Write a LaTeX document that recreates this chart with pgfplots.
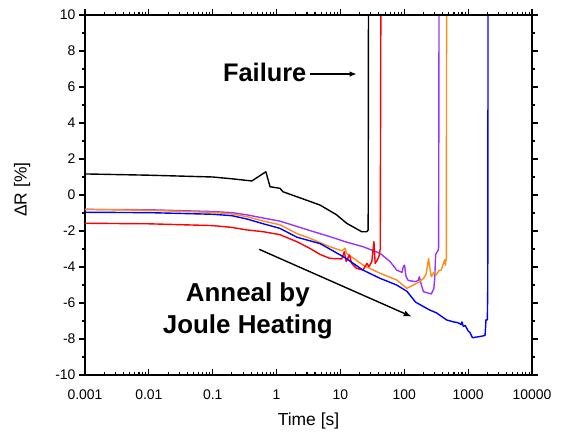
\documentclass[border=0pt]{standalone}
\usepackage{fontspec}
\setmainfont{Liberation Sans}
\usepackage{pgfplots}
\pgfplotsset{compat=1.18}
\usetikzlibrary{arrows.meta}

\definecolor{cpurple}{RGB}{153,51,255}
\definecolor{corange}{RGB}{255,140,20}
\definecolor{cred}{RGB}{255,0,0}
\definecolor{cblue}{RGB}{0,0,255}

\pgfplotsset{
  common/.style={
    width=447bp, height=360bp, scale only axis,
    xmin=1e-3, xmax=1e4,
    ymin=-10, ymax=10,
    axis line style={line width=1.2bp},
    every tick/.style={black, line width=1.1bp},
    major tick length=6bp, minor tick length=3.3bp,
    tick label style={font=\fontsize{14}{16}\selectfont},
    xtick={0.001,0.01,0.1,1,10,100,1000,10000},
    minor xtick={0.002,0.003,0.004,0.005,0.006,0.007,0.008,0.009,
      0.02,0.03,0.04,0.05,0.06,0.07,0.08,0.09,
      0.2,0.3,0.4,0.5,0.6,0.7,0.8,0.9,
      2,3,4,5,6,7,8,9,
      20,30,40,50,60,70,80,90,
      200,300,400,500,600,700,800,900,
      2000,3000,4000,5000,6000,7000,8000,9000},
  },
  curve/.style={line width=1.4bp, line join=round},
}

\begin{document}
\begin{tikzpicture}
  % main axis: data, y ticks (outward both sides), top x ticks (outward)
  \begin{semilogxaxis}[
    common, name=main,
    tick align=outside,
    xtick pos=top,
    xticklabels={,,,,,,,},
    xticklabel style={overlay},
    ytick={-10,-8,...,10},
    yticklabels={-10,-8,-6,-4,-2,0,2,4,6,8,10},
    minor ytick={-9,-7,-5,-3,-1,1,3,5,7,9},
    ytick pos=both, yticklabel pos=left,
    ylabel={ΔR [\%]},
    ylabel style={font=\fontsize{17.5}{20}\selectfont, at={(rel axis cs:0,0.515)}, anchor=center, yshift=63bp},
  ]
    % purple
    \addplot[curve, cpurple] coordinates {
      (0.001,-0.8) (0.01,-0.82) (0.1,-0.92) (0.2,-0.98) (0.34,-1.1) (0.62,-1.28)
      (1.12,-1.45) (2.1,-1.75) (3.5,-2.0) (6.8,-2.31) (12,-2.6) (22.5,-2.87)
      (41.7,-3.24) (60,-3.7) (76,-4.17) (92,-4.3) (97,-3.95) (101,-3.9)
      (106,-4.5) (115,-4.75) (150,-4.81) (165,-4.75) (172,-4.54) (185,-5.0)
      (200,-5.37) (265,-5.5) (290,-5.2) (300,-4.6) (310,-3.3) (340,-3.06)
      (345,-2.9) (350,10.5)
    };
    % orange
    \addplot[curve, corange] coordinates {
      (0.001,-0.8) (0.01,-0.85) (0.1,-0.97) (0.2,-1.05) (0.34,-1.2) (0.62,-1.45)
      (1.12,-1.65) (2.1,-2.15) (3.3,-2.4) (6.8,-2.87) (10.5,-3.1) (11.8,-2.96)
      (12.5,-3.24) (22.5,-3.89) (41.7,-4.35) (76,-4.72) (110,-5.19) (138,-5.0)
      (176,-4.81) (200,-4.63) (220,-4.4) (240,-3.52) (255,-4.2) (265,-4.54)
      (290,-4.3) (315,-4.44) (350,-4.2) (380,-4.17) (410,-3.8) (430,-3.6)
      (440,-3.9) (455,-3.5) (460,10.5)
    };
    % red
    \addplot[curve, cred] coordinates {
      (0.001,-1.57) (0.01,-1.6) (0.1,-1.7) (0.2,-1.8) (0.34,-1.94) (0.62,-2.04)
      (1.12,-2.2) (2.1,-2.6) (3.3,-2.96) (4.8,-3.3) (6.8,-3.52) (10.5,-3.55)
      (11.5,-3.15) (12.3,-3.7) (13.8,-3.33) (15,-3.8) (17.7,-4.07) (22.5,-4.17)
      (26,-3.8) (28,-3.98) (31,-3.7) (33.5,-2.59) (35,-3.8) (38,-3.6)
      (40,-3.43) (42,-3.0) (43,10.5)
    };
    % blue
    \addplot[curve, cblue] coordinates {
      (0.001,-0.96) (0.01,-0.98) (0.1,-1.07) (0.2,-1.15) (0.34,-1.33) (0.62,-1.6)
      (1.12,-1.85) (2.1,-2.35) (4.8,-2.7) (6.8,-3.0) (12,-3.5) (22.5,-4.17)
      (41.7,-4.63) (76,-5.0) (110,-5.35) (150,-5.95) (200,-6.2) (250,-6.39)
      (320,-6.55) (460,-6.94) (575,-7.04) (700,-7.1) (780,-7.2) (800,-7.05)
      (840,-7.3) (900,-7.25) (1000,-7.55) (1070,-7.65) (1170,-7.93) (1300,-7.9)
      (1610,-7.85) (1840,-7.8) (1880,-7.3) (1900,-6.94) (2000,-6.94)
      (2030,-5) (2050,10.5)
    };
    % black
    \addplot[curve, black] coordinates {
      (0.001,1.17) (0.01,1.1) (0.1,1.0) (0.2,0.9) (0.41,0.78) (0.68,1.29)
      (0.79,0.46) (1.13,0.37) (1.26,0.18) (2.6,-0.22) (4.8,-0.56) (8.7,-1.1)
      (12.5,-1.57) (21.5,-2.04) (25.8,-2.04) (27.2,-1.95) (27.5,10.5)
    };

    % annotations
    \node[font=\fontsize{25.5}{30}\selectfont\bfseries, anchor=base]
      at (axis cs:0.652,6.29) {Failure};
    \draw[line width=1.4bp, -{Latex[length=7bp,width=5.5bp]}]
      (axis cs:3.33,6.72) -- (axis cs:18.0,6.72);
    \node[font=\fontsize{26}{30}\selectfont\bfseries, anchor=base]
      at (axis cs:0.355,-5.93) {Anneal by};
    \node[font=\fontsize{26}{30}\selectfont\bfseries, anchor=base]
      at (axis cs:0.355,-7.68) {Joule Heating};
    \draw[line width=1.4bp, -{Latex[length=8bp,width=6bp]}]
      (axis cs:0.536,-3.02) -- (axis cs:130.6,-6.76);
  \end{semilogxaxis}

  % overlay axis: bottom x ticks (inward) with labels
  \begin{semilogxaxis}[
    common,
    tick align=inside,
    xtick pos=bottom,
    xticklabels={0.001,0.01,0.1,1,10,100,1000,10000},
    xticklabel style={anchor=center, yshift=-20bp},
    hide y axis,
    xlabel={Time [s]},
    xlabel style={font=\fontsize{17.5}{20}\selectfont, at={(rel axis cs:0.5,0)}, anchor=center, yshift=-46bp},
  ]
    \addplot[draw=none] coordinates {(1,0)};
  \end{semilogxaxis}

  \path ([xshift=-85bp,yshift=-59bp]main.south west) rectangle ([xshift=36bp,yshift=15bp]main.north east);
\end{tikzpicture}
\end{document}
